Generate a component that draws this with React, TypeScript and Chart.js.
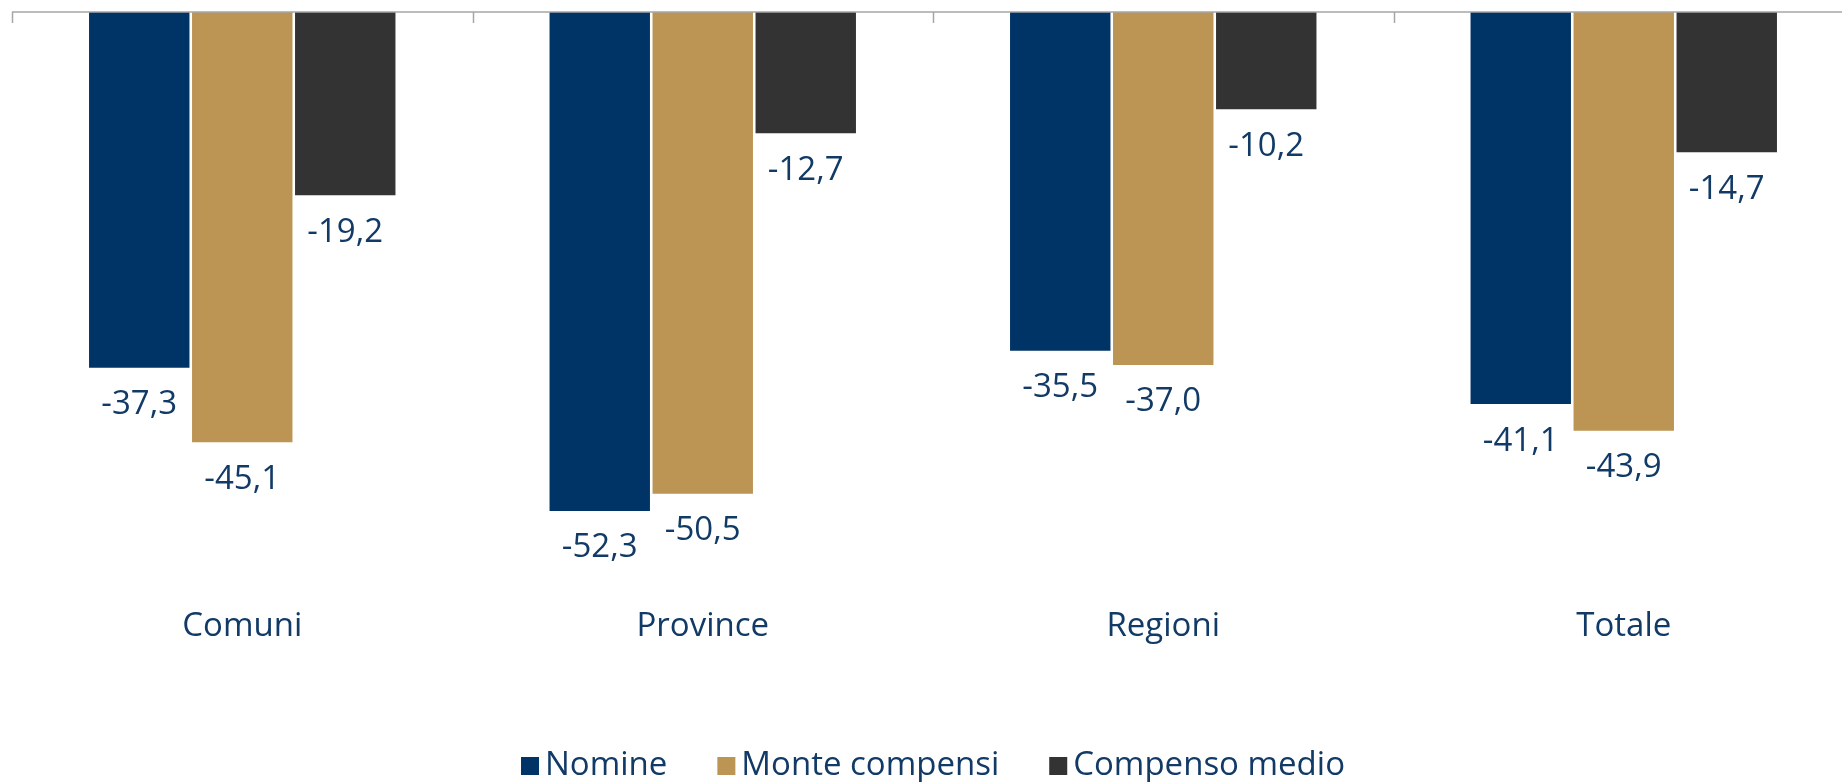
import { useEffect, useRef } from 'react';
import { Chart, registerables } from 'chart.js';

Chart.register(...registerables);

const categories = ['Comuni', 'Province', 'Regioni', 'Totale'];
const nomine = [-37.3, -52.3, -35.5, -41.1];
const monteCompensi = [-45.1, -50.5, -37.0, -43.9];
const compensoMedio = [-19.2, -12.7, -10.2, -14.7];
const seriesLabels = ['Nomine', 'Monte compensi', 'Compenso medio'];
const seriesColors = ['#003366', '#BC9555', '#333333'];
const yMin = -60;
const yMax = 0;

const FONT = '"Open Sans", "Noto Sans", sans-serif';
const TEXT = '#123a66';
const FONT_SIZE = 33;

const fmt = (v: number) => v.toFixed(1).replace('.', ',');

const zeroAxisPlugin = {
  id: 'zeroAxis',
  afterDatasetsDraw(chart: any) {
    const { ctx, chartArea, scales } = chart;
    const x = scales.x;
    const y0 = scales.y.getPixelForValue(0);
    ctx.save();
    ctx.strokeStyle = '#a6a6a6';
    ctx.lineWidth = 1.5;
    ctx.beginPath();
    ctx.moveTo(chartArea.left, y0);
    ctx.lineTo(chartArea.right, y0);
    for (let i = 0; i <= categories.length; i++) {
      const px = Math.round(x.getPixelForValue(i - 0.5)) + 0.5;
      ctx.moveTo(px, y0);
      ctx.lineTo(px, y0 + 11);
    }
    ctx.stroke();
    ctx.restore();
  },
};

const dataLabelPlugin = {
  id: 'dataLabels',
  afterDatasetsDraw(chart: any) {
    const { ctx } = chart;
    ctx.save();
    ctx.font = `${FONT_SIZE}px ${FONT}`;
    ctx.fillStyle = TEXT;
    ctx.textAlign = 'center';
    ctx.textBaseline = 'middle';
    chart.data.datasets.forEach((ds: any, di: number) => {
      const meta = chart.getDatasetMeta(di);
      meta.data.forEach((bar: any, i: number) => {
        const v = ds.data[i] as number;
        ctx.fillText(fmt(v), bar.x, bar.y + 37);
      });
    });
    ctx.restore();
  },
};

const legendPlugin = {
  id: 'customLegend',
  afterDraw(chart: any) {
    const { ctx } = chart;
    ctx.save();
    ctx.font = `${FONT_SIZE}px ${FONT}`;
    const box = 18;
    const gap = 6;
    const spacing = 50;
    const dss = chart.data.datasets;
    const widths = dss.map((ds: any) => ctx.measureText(ds.label).width);
    const total =
      widths.reduce((a: number, w: number) => a + box + gap + w, 0) + spacing * (dss.length - 1);
    let x = chart.width / 2 - total / 2;
    const y = 766;
    dss.forEach((ds: any, i: number) => {
      ctx.fillStyle = ds.backgroundColor;
      ctx.fillRect(x, y - box / 2, box, box);
      x += box + gap;
      ctx.fillStyle = TEXT;
      ctx.textAlign = 'left';
      ctx.textBaseline = 'middle';
      ctx.fillText(ds.label, x, y);
      x += widths[i] + spacing;
    });
    ctx.restore();
  },
};

export default function App() {
  const canvasRef = useRef<HTMLCanvasElement | null>(null);

  useEffect(() => {
    if (!canvasRef.current) return;
    const series = [nomine, monteCompensi, compensoMedio];
    const chart = new Chart(canvasRef.current, {
      type: 'bar',
      data: {
        labels: categories,
        datasets: series.map((d, i) => ({
          label: seriesLabels[i],
          data: d,
          backgroundColor: seriesColors[i],
          borderWidth: 0,
          categoryPercentage: 0.671,
          barPercentage: 0.975,
        })),
      },
      options: {
        responsive: false,
        animation: false,
        devicePixelRatio: 1,
        layout: { padding: { left: 12, right: 12, top: 12, bottom: 114 } },
        plugins: {
          legend: { display: false },
          tooltip: { enabled: false },
        },
        scales: {
          x: {
            grid: { display: false, drawTicks: false },
            border: { display: false },
            ticks: {
              color: TEXT,
              font: { family: FONT, size: FONT_SIZE },
              padding: 22,
              maxRotation: 0,
              autoSkip: false,
            },
          },
          y: { display: false, min: yMin, max: yMax },
        },
      },
      plugins: [zeroAxisPlugin, dataLabelPlugin, legendPlugin],
    });
    return () => chart.destroy();
  }, []);

  return (
    <div
      style={{
        position: 'fixed',
        left: 0,
        top: 0,
        width: 1842,
        height: 782,
        overflow: 'hidden',
        background: '#ffffff',
      }}
    >
      <canvas ref={canvasRef} width={1866} height={782} style={{ display: 'block' }} />
    </div>
  );
}
